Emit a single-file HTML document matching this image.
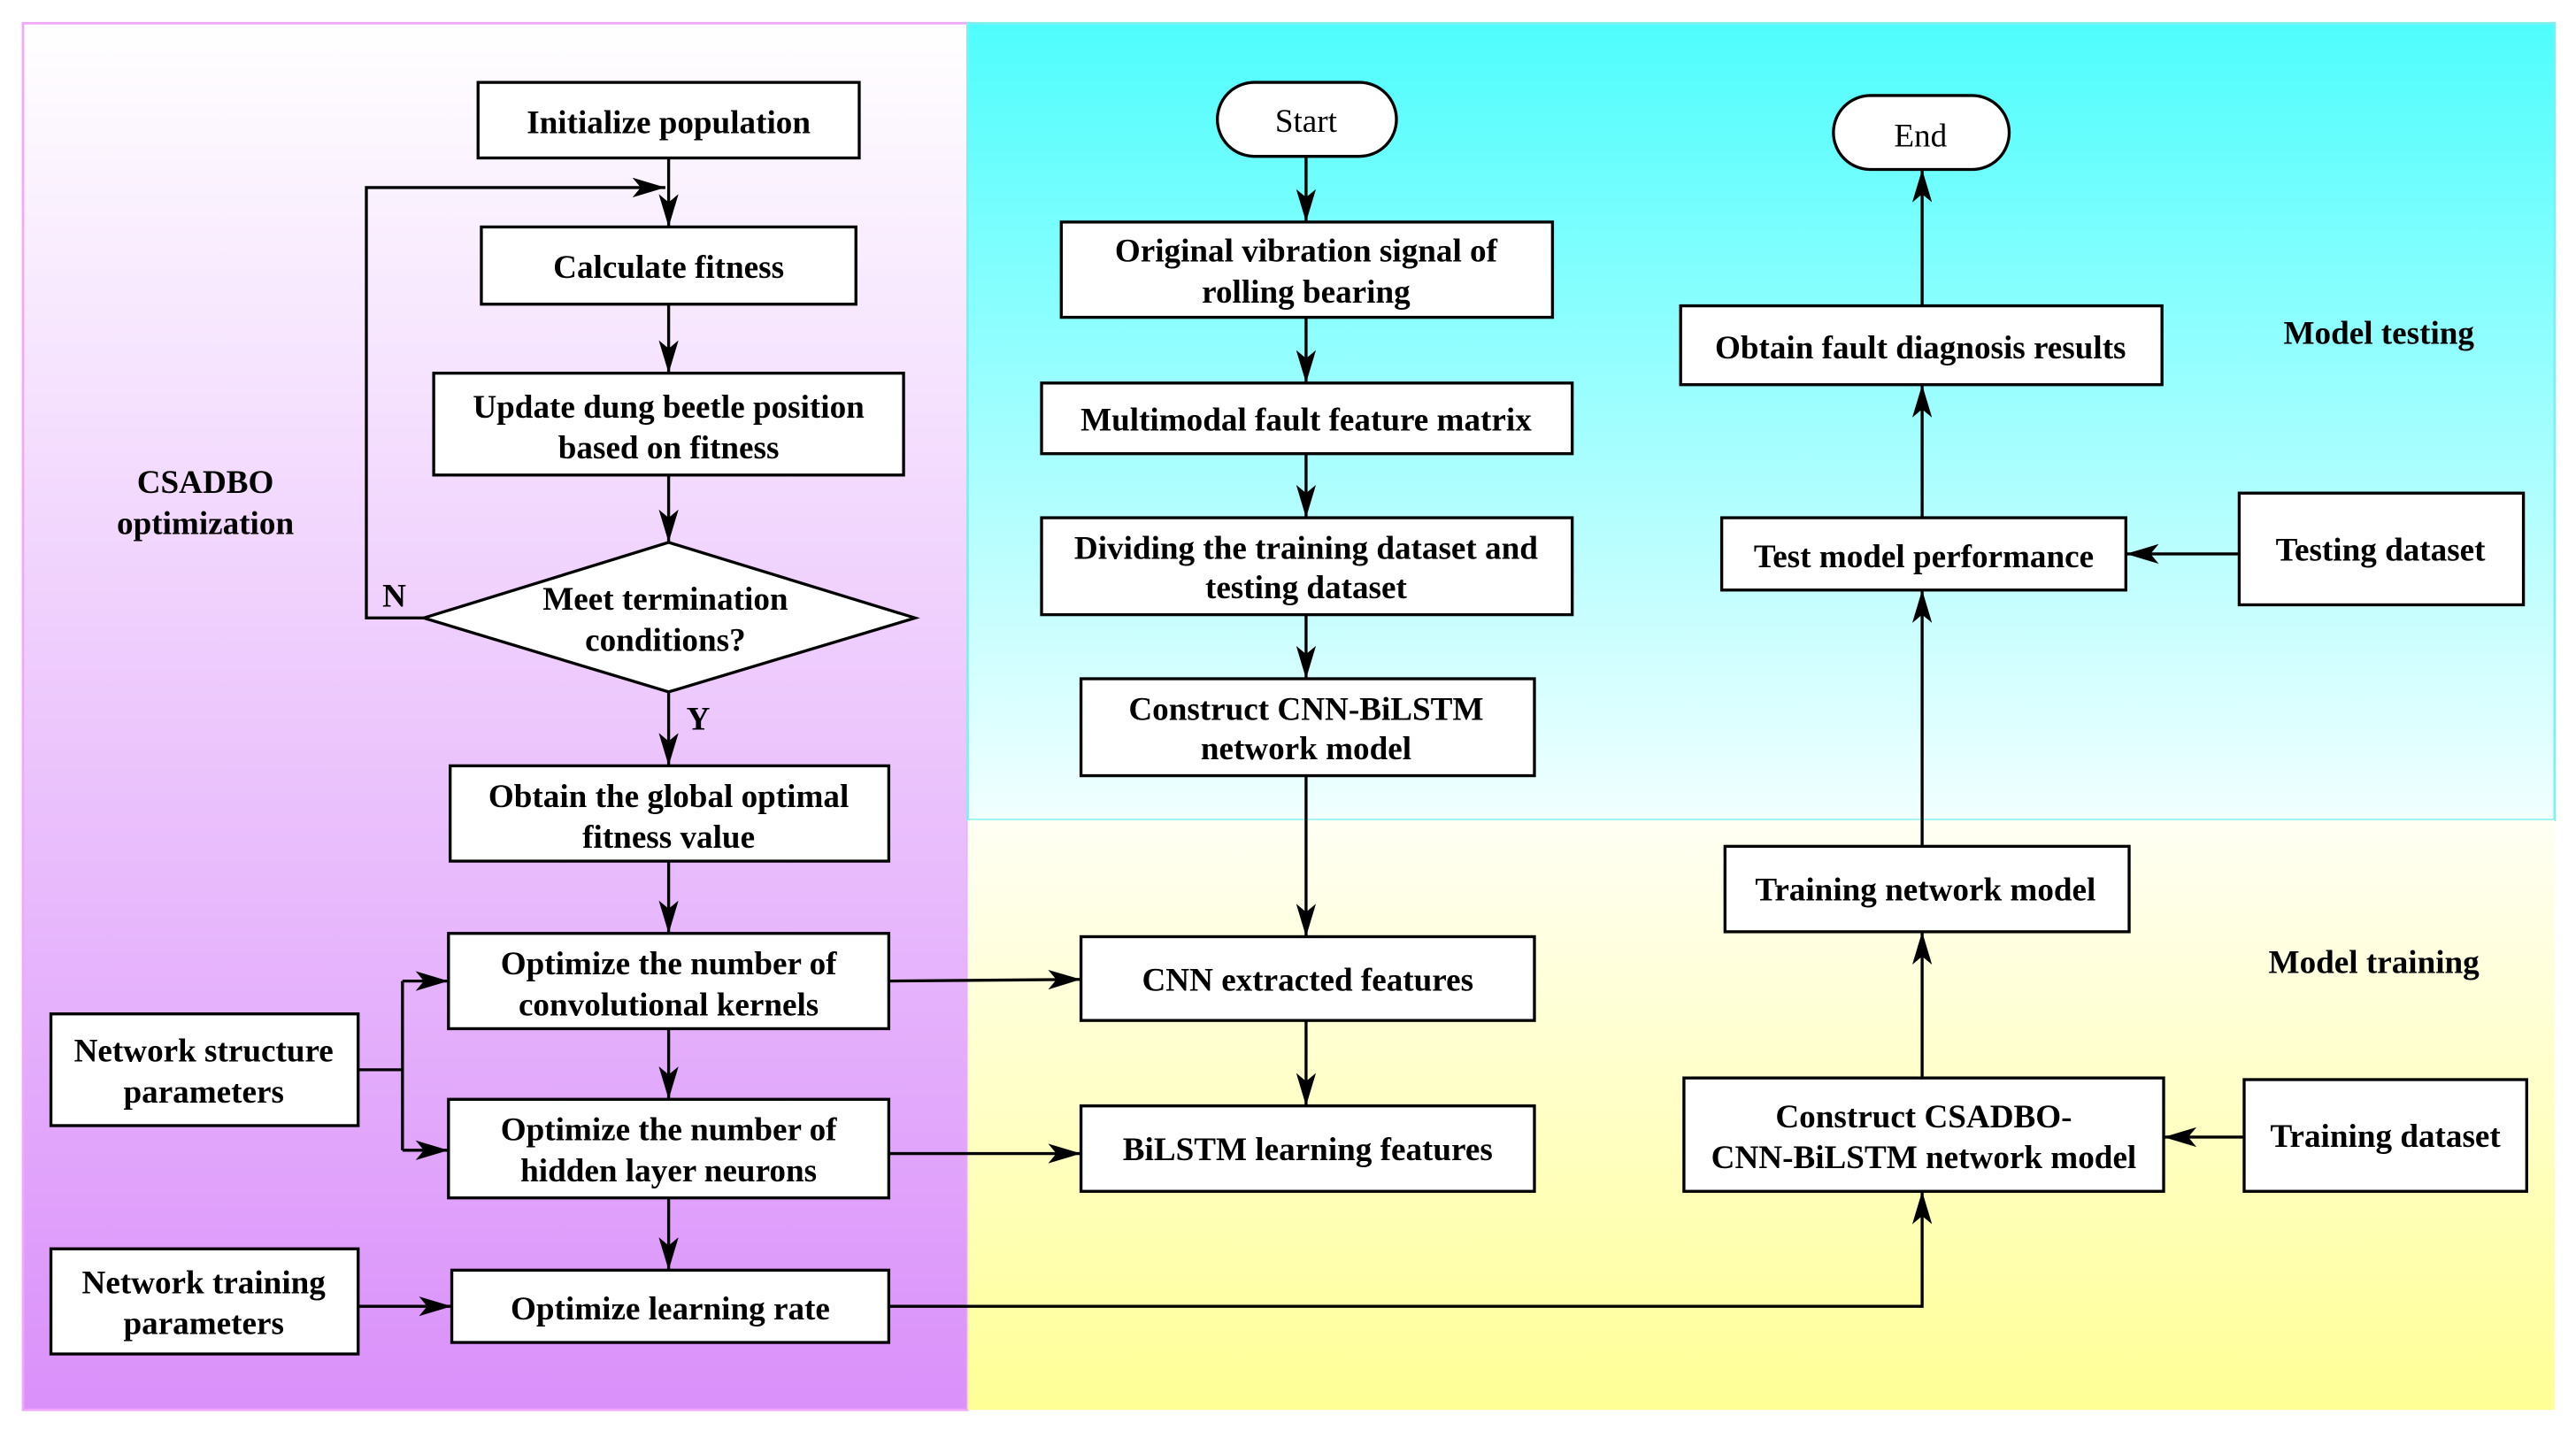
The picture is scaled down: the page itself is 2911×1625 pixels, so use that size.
<!DOCTYPE html>
<html><head><meta charset="utf-8"><style>html,body{margin:0;padding:0;background:#fff}svg{display:block}
.t{font-family:"Liberation Serif","Times New Roman",serif;font-weight:bold;font-size:20px}</style></head>
<body>
<svg width="2911" height="1625" viewBox="0 0 1568 875" xmlns="http://www.w3.org/2000/svg">
<defs>
<linearGradient id="gl" x1="0" y1="0" x2="0" y2="1"><stop offset="0" stop-color="#ffffff"/><stop offset="1" stop-color="#da90fa"/></linearGradient>
<linearGradient id="gc" x1="0" y1="0" x2="0" y2="1"><stop offset="0" stop-color="#4ffdfd"/><stop offset="1" stop-color="#f2ffff"/></linearGradient>
<linearGradient id="gy" x1="0" y1="0" x2="0" y2="1"><stop offset="0" stop-color="#fffff4"/><stop offset="1" stop-color="#ffff96"/></linearGradient>
<marker id="a" viewBox="0 0 20 12" refX="20" refY="6" markerWidth="20" markerHeight="12" markerUnits="userSpaceOnUse" orient="auto"><path d="M0,0 L20,6 L0,12 L5,6 Z" fill="#000"/></marker>
</defs>
<rect x="14" y="14" width="575" height="844" fill="url(#gl)" stroke="#f0a8f8" stroke-width="1.5"/>
<rect x="589" y="14" width="966" height="485" fill="url(#gc)" stroke="#7ff0f0" stroke-width="1.5"/>
<rect x="589" y="499" width="966" height="359" fill="url(#gy)"/>
<g fill="#fff" stroke="#000" stroke-width="1.8">
<rect x="291" y="50" width="232" height="46"/>
<rect x="293" y="138" width="228" height="47"/>
<rect x="264" y="227" width="286" height="62"/>
<polygon points="258,376 407,330 557,376 407,421"/>
<rect x="274" y="466" width="267" height="58"/>
<rect x="273" y="568" width="268" height="58"/>
<rect x="273" y="669" width="268" height="60"/>
<rect x="275" y="773" width="266" height="44"/>
<rect x="31" y="617" width="187" height="68"/>
<rect x="31" y="760" width="187" height="64"/>
<rect x="741" y="50" width="109" height="45" rx="22.5"/>
<rect x="646" y="135" width="299" height="58"/>
<rect x="634" y="233" width="323" height="43"/>
<rect x="634" y="315" width="323" height="59"/>
<rect x="658" y="413" width="276" height="59"/>
<rect x="658" y="570" width="276" height="51"/>
<rect x="658" y="673" width="276" height="52"/>
<rect x="1116" y="58" width="107" height="45" rx="22.5"/>
<rect x="1023" y="186" width="293" height="48"/>
<rect x="1048" y="315" width="246" height="44"/>
<rect x="1363" y="300" width="173" height="68"/>
<rect x="1050" y="515" width="246" height="52"/>
<rect x="1025" y="656" width="292" height="69"/>
<rect x="1366" y="657" width="172" height="68"/>
</g>
<g fill="none" stroke="#000" stroke-width="1.8">
<line x1="407" y1="96" x2="407" y2="138" marker-end="url(#a)"/>
<polyline points="258,376 223,376 223,114 405,114" marker-end="url(#a)"/>
<line x1="407" y1="185" x2="407" y2="227" marker-end="url(#a)"/>
<line x1="407" y1="289" x2="407" y2="330" marker-end="url(#a)"/>
<line x1="407" y1="421" x2="407" y2="466" marker-end="url(#a)"/>
<line x1="407" y1="524" x2="407" y2="568" marker-end="url(#a)"/>
<line x1="407" y1="626" x2="407" y2="669" marker-end="url(#a)"/>
<line x1="407" y1="729" x2="407" y2="773" marker-end="url(#a)"/>
<polyline points="218,651 245,651"/>
<line x1="245" y1="597" x2="245" y2="700"/>
<line x1="245" y1="597" x2="273" y2="597" marker-end="url(#a)"/>
<line x1="245" y1="700" x2="273" y2="700" marker-end="url(#a)"/>
<line x1="218" y1="795" x2="275" y2="795" marker-end="url(#a)"/>
<line x1="541" y1="597" x2="658" y2="596" marker-end="url(#a)"/>
<line x1="541" y1="702" x2="658" y2="702" marker-end="url(#a)"/>
<polyline points="541,795 1170,795 1170,725" marker-end="url(#a)"/>
<line x1="795" y1="95" x2="795" y2="135" marker-end="url(#a)"/>
<line x1="795" y1="193" x2="795" y2="233" marker-end="url(#a)"/>
<line x1="795" y1="276" x2="795" y2="315" marker-end="url(#a)"/>
<line x1="795" y1="374" x2="795" y2="413" marker-end="url(#a)"/>
<line x1="795" y1="472" x2="795" y2="570" marker-end="url(#a)"/>
<line x1="795" y1="621" x2="795" y2="673" marker-end="url(#a)"/>
<line x1="1170" y1="656" x2="1170" y2="567" marker-end="url(#a)"/>
<line x1="1170" y1="515" x2="1170" y2="359" marker-end="url(#a)"/>
<line x1="1170" y1="315" x2="1170" y2="234" marker-end="url(#a)"/>
<line x1="1170" y1="186" x2="1170" y2="103" marker-end="url(#a)"/>
<line x1="1363" y1="337" x2="1294" y2="337" marker-end="url(#a)"/>
<line x1="1366" y1="692" x2="1317" y2="692" marker-end="url(#a)"/>
</g>
<g class="t" text-anchor="middle" fill="#000">
<text x="407" y="81">Initialize population</text>
<text x="407" y="169">Calculate fitness</text>
<text x="407" y="254">Update dung beetle position</text>
<text x="407" y="279">based on fitness</text>
<text x="405" y="371">Meet termination</text>
<text x="405" y="396">conditions?</text>
<text x="240" y="369">N</text>
<text x="425" y="444">Y</text>
<text x="407" y="491">Obtain the global optimal</text>
<text x="407" y="516">fitness value</text>
<text x="407" y="593">Optimize the number of</text>
<text x="407" y="618">convolutional kernels</text>
<text x="407" y="694">Optimize the number of</text>
<text x="407" y="719">hidden layer neurons</text>
<text x="408" y="803">Optimize learning rate</text>
<text x="124" y="646">Network structure</text>
<text x="124" y="671">parameters</text>
<text x="124" y="787">Network training</text>
<text x="124" y="812">parameters</text>
<text x="125" y="300">CSADBO</text>
<text x="125" y="325">optimization</text>
<text x="795" y="80" font-weight="normal">Start</text>
<text x="795" y="159">Original vibration signal of</text>
<text x="795" y="184">rolling bearing</text>
<text x="795" y="262">Multimodal fault feature matrix</text>
<text x="795" y="340">Dividing the training dataset and</text>
<text x="795" y="364">testing dataset</text>
<text x="795" y="438">Construct CNN-BiLSTM</text>
<text x="795" y="462">network model</text>
<text x="796" y="603">CNN extracted features</text>
<text x="796" y="706">BiLSTM learning features</text>
<text x="1169" y="89" font-weight="normal">End</text>
<text x="1169" y="218">Obtain fault diagnosis results</text>
<text x="1171" y="345">Test model performance</text>
<text x="1449" y="341">Testing dataset</text>
<text x="1172" y="548">Training network model</text>
<text x="1171" y="686">Construct CSADBO-</text>
<text x="1171" y="711">CNN-BiLSTM network model</text>
<text x="1452" y="698">Training dataset</text>
<text x="1448" y="209">Model testing</text>
<text x="1445" y="592">Model training</text>
</g>
</svg>
</body></html>
